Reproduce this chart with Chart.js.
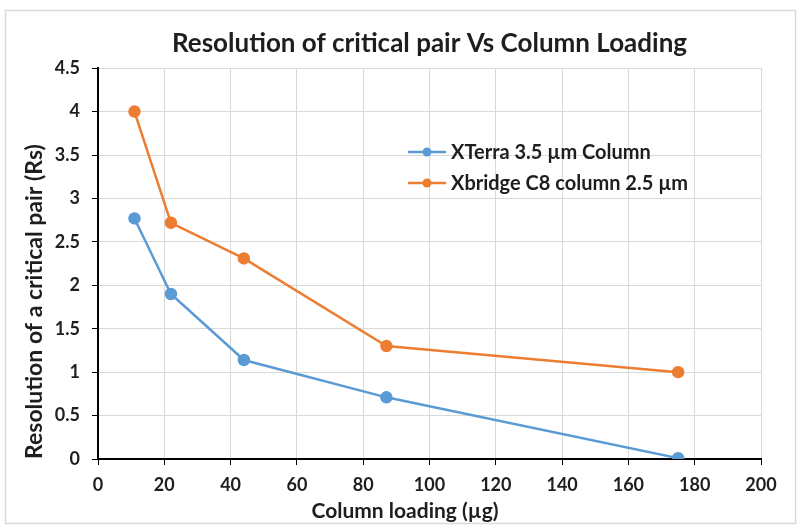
<!DOCTYPE html>
<html>
<head>
<meta charset="utf-8">
<script src="https://cdn.jsdelivr.net/npm/chart.js@4"></script>
<style>
  html, body { margin: 0; padding: 0; background: #fff; }
  #wrap { width: 798px; height: 527px; }
</style>
</head>
<body>
<div id="wrap"><canvas id="chart" width="798" height="527"></canvas></div>
<script>
const loading = [11, 22, 44, 87, 175];
const xterra = [2.77, 1.9, 1.14, 0.71, 0.01];
const xbridge = [4, 2.72, 2.31, 1.3, 1.0];
const seriesNames = ['XTerra 3.5 µm Column', 'Xbridge C8 column 2.5 µm'];
const xTitle = 'Column loading (µg)';

const blue = '#5B9BD5';
const orange = '#ED7D31';
const fontFamily = 'Lato, "Open Sans", sans-serif';
const textColor = '#1e1e1e';

function toPoints(ys) {
    return loading.map(function (x, i) { return { x: x, y: ys[i] }; });
}

// light frame round the whole chart
const framePlugin = {
    id: 'frame',
    beforeDraw: function (chart) {
        const ctx = chart.ctx;
        ctx.save();
        ctx.fillStyle = '#fff';
        ctx.fillRect(0, 0, chart.width, chart.height);
        ctx.strokeStyle = '#d9d9d9';
        ctx.lineWidth = 1.5;
        ctx.strokeRect(5.5, 10.5, chart.width - 8, chart.height - 14);
        ctx.restore();
    }
};

// x axis title, centred a bit left of the plot like the original
const xTitlePlugin = {
    id: 'xTitle',
    afterDraw: function (chart) {
        const ctx = chart.ctx;
        ctx.save();
        ctx.fillStyle = textColor;
        ctx.font = 'bold 21px ' + fontFamily;
        ctx.textAlign = 'center';
        ctx.textBaseline = 'middle';
        ctx.fillText(xTitle, 405, chart.scales.x.bottom - 16);
        ctx.restore();
    }
};

// legend sitting inside the plot area
const innerLegend = {
    id: 'innerLegend',
    afterDraw: function (chart) {
        const ctx = chart.ctx;
        const x0 = 408, y0 = 152, rowGap = 31;
        ctx.save();
        chart.data.datasets.forEach(function (ds, i) {
            const y = y0 + i * rowGap;
            ctx.strokeStyle = ds.borderColor;
            ctx.lineWidth = 2.5;
            ctx.beginPath();
            ctx.moveTo(x0, y);
            ctx.lineTo(x0 + 38, y);
            ctx.stroke();
            ctx.fillStyle = ds.borderColor;
            ctx.beginPath();
            ctx.arc(x0 + 19, y, 4.5, 0, Math.PI * 2);
            ctx.fill();
            ctx.fillStyle = textColor;
            ctx.font = 'bold 20px ' + fontFamily;
            ctx.textBaseline = 'middle';
            ctx.fillText(ds.label, x0 + 43, y + 1);
        });
        ctx.restore();
    }
};

const ctx = document.getElementById('chart');
const chart = new Chart(ctx, {
    type: 'scatter',
    data: {
        datasets: [
            {
                label: seriesNames[0],
                data: toPoints(xterra),
                showLine: true,
                borderColor: blue,
                backgroundColor: blue,
                borderWidth: 2.5,
                pointRadius: 5,
                pointHoverRadius: 5
            },
            {
                label: seriesNames[1],
                data: toPoints(xbridge),
                showLine: true,
                borderColor: orange,
                backgroundColor: orange,
                borderWidth: 2.5,
                pointRadius: 5,
                pointHoverRadius: 5
            }
        ]
    },
    options: {
        responsive: false,
        animation: false,
        layout: { padding: { left: 0, right: 37, top: 0, bottom: 0 } },
        plugins: {
            legend: { display: false },
            tooltip: { enabled: false },
            title: {
                display: true,
                fullSize: false,
                text: 'Resolution of critical pair Vs Column Loading',
                color: textColor,
                font: { family: fontFamily, size: 26, weight: 'bold' },
                padding: { top: 28, bottom: 9 }
            }
        },
        scales: {
            x: {
                type: 'linear',
                min: 0,
                max: 200,
                ticks: {
                    stepSize: 20,
                    color: textColor,
                    padding: 9,
                    font: { family: fontFamily, size: 18, weight: 'bold' }
                },
                grid: { color: '#d9d9d9', tickColor: '#000', tickLength: 6, lineWidth: 1 },
                border: { color: '#000', width: 2 },
                afterFit: function (scale) { scale.height = 68; }
            },
            y: {
                min: 0,
                max: 4.5,
                ticks: {
                    stepSize: 0.5,
                    color: textColor,
                    padding: 12,
                    font: { family: fontFamily, size: 18, weight: 'bold' },
                    callback: function (value) { return String(value); }
                },
                grid: { color: '#d9d9d9', tickColor: '#000', tickLength: 6, lineWidth: 1 },
                border: { color: '#000', width: 2 },
                title: {
                    display: true,
                    align: 'start',
                    text: 'Resolution of a critical pair (Rs)',
                    color: textColor,
                    font: { family: fontFamily, size: 23, weight: 'bold' },
                    padding: { top: 21, bottom: 4 }
                },
                afterFit: function (scale) { scale.width = 98; }
            }
        }
    },
    plugins: [framePlugin, xTitlePlugin, innerLegend]
});
</script>
</body>
</html>
